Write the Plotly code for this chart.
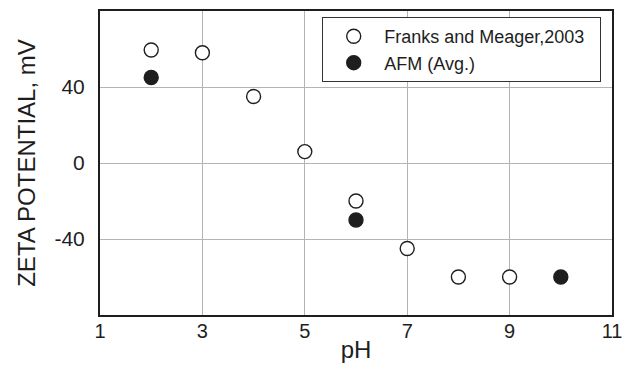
import plotly.graph_objects as go

ph_franks = [2, 3, 4, 5, 6, 7, 8, 9]
zeta_franks = [59.5, 58, 35, 6, -20, -45, -60, -60]
ph_afm = [2, 6, 10]
zeta_afm = [45, -30, -60]

x_ticks = [1, 3, 5, 7, 9, 11]
y_ticks = [-40, 0, 40]

font = "Liberation Sans, Arial, sans-serif"
ink = "#1e1e1e"

fig = go.Figure()
fig.add_trace(go.Scatter(
    x=ph_franks, y=zeta_franks, mode="markers",
    name="Franks and Meager,2003\u00a0\u00a0",
    marker=dict(symbol="circle", size=14, color="white",
                line=dict(color=ink, width=1.4)),
))
fig.add_trace(go.Scatter(
    x=ph_afm, y=zeta_afm, mode="markers",
    name="AFM (Avg.)",
    marker=dict(symbol="circle", size=14, color=ink,
                line=dict(color=ink, width=1.4)),
))

fig.update_layout(
    width=630, height=369,
    margin=dict(l=100, r=18, t=11, b=54, autoexpand=False),
    paper_bgcolor="white", plot_bgcolor="white",
    font=dict(family=font, color=ink),
    showlegend=True,
    legend=dict(
        x=0.434, y=0.98, xanchor="left", yanchor="top",
        bgcolor="white", bordercolor="#333", borderwidth=1,
        font=dict(size=18, family=font, color=ink),
        itemwidth=51, tracegroupgap=0,
    ),
    xaxis=dict(
        range=[1, 11], tickvals=x_ticks, ticktext=[str(v) for v in x_ticks],
        showgrid=True, gridcolor="#b4b4b4", gridwidth=1,
        showline=True, linecolor=ink, linewidth=2, mirror=True,
        ticks="", zeroline=False, automargin=False,
        tickfont=dict(size=20, family=font, color=ink),
        ticklabelstandoff=-3,
        title=dict(text="pH", font=dict(size=24, family=font, color=ink), standoff=0),
    ),
    yaxis=dict(
        range=[-80, 80], tickvals=y_ticks, ticktext=[str(v) for v in y_ticks],
        showgrid=True, gridcolor="#b4b4b4", gridwidth=1,
        showline=True, linecolor=ink, linewidth=2, mirror=True,
        ticks="", zeroline=False, automargin=False,
        tickfont=dict(size=21, family=font, color=ink),
        ticklabelstandoff=9,
        title=dict(text="ZETA POTENTIAL, mV", font=dict(size=24, family=font, color=ink), standoff=12),
    ),
)

fig.write_html("out.html", config={"displayModeBar": False},
               post_script="document.body.style.margin='0';")
